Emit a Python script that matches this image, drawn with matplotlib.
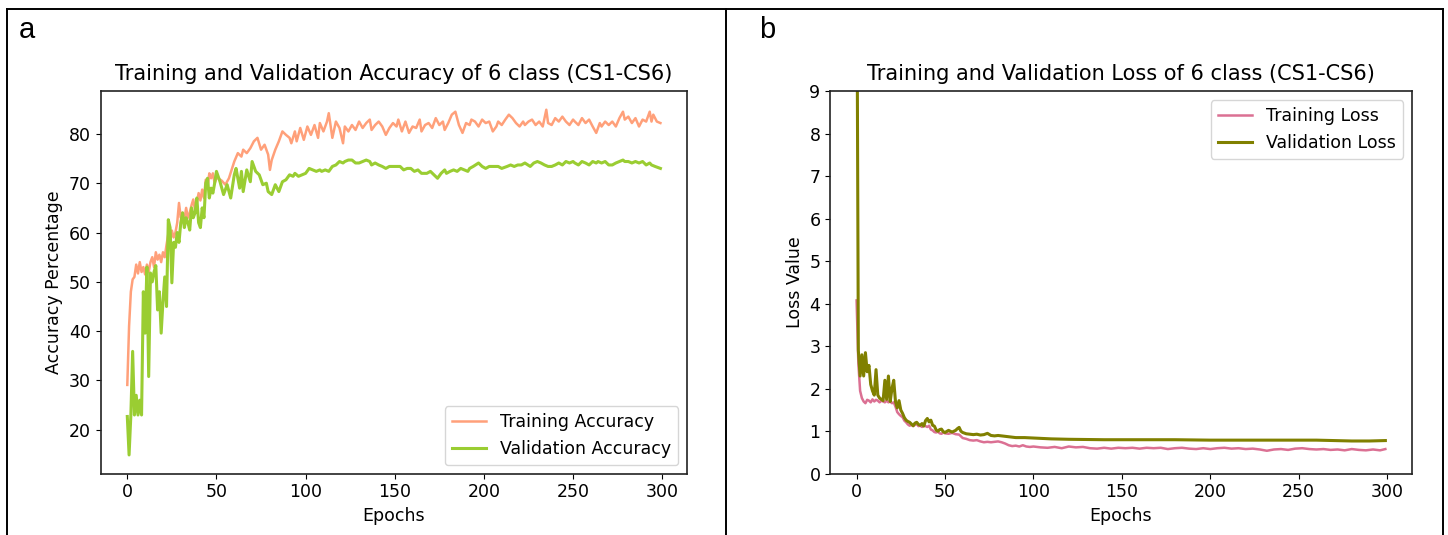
import matplotlib
matplotlib.use('Agg')
import matplotlib.pyplot as plt
from matplotlib.lines import Line2D

# Accuracy panel (a)
train_acc_ep = [0, 1, 2, 3, 4, 5, 6, 7, 8, 9, 10, 11, 12, 13, 14, 15, 16, 17, 18, 19,
                20, 21, 22, 23, 24, 25, 26, 27, 28, 29, 30, 31, 32, 33, 34, 35, 36, 37, 38, 39,
                40, 41, 42, 43, 44, 45, 46, 47, 48, 49, 50, 51, 53, 55, 57, 60, 62, 64, 65, 67,
                69, 71, 73, 75, 77, 79, 80, 81, 83, 85, 87, 89, 91, 92, 94, 95, 97, 99, 101, 103,
                105, 107, 108, 110, 112, 113, 115, 117, 119, 121, 122, 124, 126, 128, 130, 132, 134, 136, 137, 139,
                141, 143, 145, 147, 149, 151, 152, 154, 156, 158, 160, 162, 164, 165, 167, 169, 171, 173, 175, 177,
                178, 180, 182, 184, 186, 188, 190, 192, 193, 195, 197, 199, 201, 203, 205, 207, 208, 210, 212, 214,
                216, 218, 220, 222, 223, 225, 227, 229, 231, 233, 235, 236, 238, 240, 242, 244, 246, 248, 250, 251,
                253, 255, 257, 259, 261, 263, 265, 266, 268, 270, 272, 274, 276, 278, 279, 281, 283, 285, 287, 289,
                291, 293, 294, 295, 297, 299]
train_acc = [29.1, 41.0, 48.0, 50.5, 51.0, 53.5, 51.7, 54.0, 52.0, 53.0, 51.5, 53.5, 52.0, 54.0, 55.0, 53.0, 56.0, 54.5, 55.5, 54.0,
             56.0, 55.0, 57.5, 59.7, 58.0, 60.4, 59.0, 60.0, 62.0, 66.0, 63.0, 64.0, 62.5, 65.0, 63.0, 64.0, 65.5, 66.7, 64.5, 66.0,
             68.0, 66.5, 68.7, 67.0, 70.7, 69.0, 72.0, 71.0, 72.0, 70.0, 71.0, 71.0, 70.5, 69.7, 71.0, 74.4, 76.1, 75.4, 76.8, 76.1,
             77.1, 78.5, 79.2, 76.8, 77.8, 75.8, 72.7, 74.7, 76.8, 78.5, 80.5, 79.8, 79.2, 78.1, 80.5, 78.5, 81.2, 78.8, 81.5, 79.8,
             81.8, 79.2, 82.2, 80.5, 82.5, 84.2, 79.2, 82.5, 81.2, 78.1, 81.5, 80.5, 81.8, 80.8, 82.5, 81.2, 82.2, 82.9, 80.8, 81.8,
             82.5, 81.5, 79.8, 81.2, 82.2, 81.5, 82.9, 80.5, 82.5, 80.2, 81.5, 81.2, 82.9, 80.5, 81.8, 82.2, 81.2, 83.2, 81.8, 82.5,
             80.8, 82.2, 83.9, 84.5, 81.8, 80.2, 82.2, 81.8, 82.9, 82.5, 81.5, 82.9, 82.2, 82.5, 80.5, 81.5, 82.5, 81.8, 82.9, 83.9,
             83.2, 82.2, 81.5, 82.5, 81.8, 82.5, 82.9, 81.8, 82.5, 81.5, 84.9, 82.2, 81.8, 83.2, 82.5, 83.5, 82.5, 81.8, 82.9, 82.5,
             81.8, 83.2, 82.2, 82.9, 81.5, 80.2, 82.2, 81.5, 82.5, 81.8, 82.5, 81.5, 83.2, 84.5, 82.9, 83.5, 82.2, 83.2, 81.5, 82.9,
             82.5, 84.5, 82.5, 83.9, 82.5, 82.2]

val_acc_ep = [0, 1, 2, 3, 4, 5, 6, 7, 8, 9, 10, 11, 12, 13, 14, 15, 16, 17, 18, 19,
              20, 21, 22, 23, 24, 25, 26, 27, 28, 29, 30, 31, 32, 33, 34, 35, 36, 37, 38, 39,
              40, 41, 42, 43, 44, 45, 46, 47, 48, 49, 50, 52, 54, 56, 58, 60, 61, 63, 64, 65,
              67, 69, 70, 72, 74, 76, 78, 79, 81, 83, 85, 87, 89, 91, 93, 94, 96, 98, 100, 102,
              104, 106, 108, 109, 111, 113, 115, 117, 119, 121, 122, 124, 126, 128, 130, 132, 134, 136, 137, 139,
              141, 143, 145, 147, 150, 153, 155, 157, 159, 161, 163, 165, 168, 170, 172, 174, 176, 178, 179, 181,
              183, 185, 187, 189, 191, 192, 194, 197, 199, 201, 203, 206, 208, 210, 213, 215, 217, 219, 221, 223,
              226, 228, 230, 232, 234, 236, 238, 240, 242, 244, 246, 248, 250, 251, 253, 255, 257, 259, 261, 263,
              264, 266, 268, 270, 272, 274, 276, 278, 279, 281, 283, 285, 287, 289, 291, 293, 294, 296, 299]
val_acc = [22.7, 14.9, 23.0, 35.9, 23.0, 27.0, 23.0, 26.0, 23.0, 48.0, 39.6, 53.0, 30.8, 51.8, 50.0, 52.0, 53.3, 44.3, 48.0, 39.6,
           46.0, 51.0, 45.0, 62.6, 61.0, 49.8, 58.0, 57.0, 60.0, 58.0, 62.0, 64.0, 61.0, 63.0, 62.0, 60.5, 65.0, 63.0, 64.0, 67.0,
           62.0, 61.0, 65.0, 63.0, 70.0, 71.0, 67.0, 69.0, 68.0, 70.0, 72.4, 70.3, 67.7, 69.7, 67.0, 71.7, 73.0, 69.0, 72.4, 68.3,
           72.7, 70.3, 74.4, 72.4, 71.7, 69.7, 70.0, 68.3, 67.7, 69.7, 68.3, 70.3, 70.7, 71.7, 71.4, 72.0, 71.4, 71.7, 72.0, 73.0,
           72.7, 72.4, 72.7, 72.4, 72.7, 72.4, 73.4, 73.7, 74.4, 74.1, 74.4, 74.7, 74.7, 74.1, 74.1, 74.4, 74.7, 74.4, 73.7, 74.1,
           73.7, 73.4, 73.0, 73.4, 73.4, 73.4, 72.7, 73.0, 73.0, 72.4, 72.7, 72.0, 72.0, 72.4, 71.7, 71.0, 72.0, 72.7, 72.0, 72.4,
           72.7, 72.4, 73.0, 72.7, 72.4, 73.0, 73.4, 74.1, 73.4, 73.0, 73.4, 73.4, 73.4, 73.0, 73.4, 73.7, 73.4, 73.7, 73.7, 74.1,
           73.4, 74.1, 74.4, 74.1, 73.7, 73.4, 73.4, 73.7, 74.1, 73.7, 74.4, 74.1, 74.4, 74.1, 73.7, 74.4, 74.1, 73.7, 74.4, 74.1,
           74.4, 74.1, 74.4, 73.7, 73.7, 74.1, 74.4, 74.7, 74.4, 74.4, 74.1, 74.4, 74.1, 74.4, 73.7, 74.1, 73.7, 73.4, 73.0]

# Loss panel (b)
train_loss_ep = list(range(0, 51)) + [52, 54, 56, 58, 60, 62, 64, 66, 68, 70, 72, 74, 76, 78, 80, 82, 84, 86, 88, 90,
                                      92, 94, 96, 98, 100, 104, 108, 112, 116, 120, 124, 128, 132, 136, 140, 144, 148, 152, 156, 160,
                                      164, 168, 172, 176, 180, 184, 188, 192, 196, 200, 204, 208, 212, 216, 220, 224, 228, 232, 236, 240,
                                      244, 248, 252, 256, 260, 264, 268, 272, 276, 280, 284, 288, 292, 296, 299]
train_loss = [4.08, 2.6, 1.95, 1.78, 1.70, 1.66, 1.74, 1.72, 1.68, 1.75, 1.70, 1.74, 1.72, 1.68, 1.72, 1.70, 1.68, 1.72, 1.68, 1.70,
              1.66, 1.68, 1.58, 1.45, 1.40, 1.36, 1.33, 1.25, 1.21, 1.16, 1.13, 1.15, 1.12, 1.15, 1.17, 1.12, 1.13, 1.10, 1.14, 1.12,
              1.10, 1.13, 1.04, 1.02, 0.98, 0.97, 0.99, 0.95, 0.94, 0.97, 0.95,
              0.94, 0.96, 0.93, 0.92, 0.84, 0.82, 0.79, 0.78, 0.79, 0.76, 0.74, 0.75, 0.74, 0.75, 0.76, 0.74, 0.71, 0.67, 0.65, 0.66,
              0.64, 0.67, 0.64, 0.63, 0.64, 0.62, 0.61, 0.63, 0.60, 0.64, 0.62, 0.63, 0.60, 0.59, 0.61, 0.59, 0.61, 0.60, 0.61, 0.59,
              0.61, 0.60, 0.61, 0.58, 0.60, 0.61, 0.59, 0.58, 0.60, 0.58, 0.60, 0.61, 0.59, 0.60, 0.58, 0.59, 0.57, 0.54, 0.57, 0.58,
              0.56, 0.59, 0.60, 0.58, 0.57, 0.58, 0.56, 0.57, 0.55, 0.58, 0.56, 0.55, 0.57, 0.55, 0.58]

val_loss_ep = list(range(0, 51)) + [52, 54, 56, 57, 58, 59, 60, 62, 64, 66, 68, 70, 72, 74, 76, 78, 80, 82, 84, 86,
                                    88, 90, 95, 100, 110, 120, 140, 160, 180, 200, 220, 240, 260, 270, 280, 290, 299]
val_loss = [14.0, 2.9, 2.3, 2.8, 2.3, 2.85, 2.4, 2.55, 2.1, 1.95, 1.85, 2.45, 1.85, 1.78, 1.75, 1.72, 2.2, 1.75, 2.3, 1.7,
            2.0, 2.2, 1.7, 1.55, 1.72, 1.5, 1.42, 1.32, 1.26, 1.23, 1.21, 1.17, 1.13, 1.19, 1.21, 1.16, 1.14, 1.18, 1.12, 1.25,
            1.30, 1.22, 1.26, 1.14, 1.12, 1.03, 1.0, 1.04, 1.05, 0.99, 0.97,
            1.02, 0.98, 1.02, 1.06, 1.09, 1.0, 0.97, 0.94, 0.93, 0.92, 0.93, 0.91, 0.92, 0.95, 0.90, 0.89, 0.90, 0.89, 0.88, 0.87,
            0.86, 0.85, 0.85, 0.84, 0.82, 0.81, 0.80, 0.80, 0.80, 0.79, 0.79, 0.79, 0.79, 0.78, 0.77, 0.77, 0.78]

fig = plt.figure(figsize=(14.48, 5.35), dpi=100)

# panel frame like in the paper figure
frame_kw = dict(color='black', lw=1.4, transform=fig.transFigure)
W, H = 1448.0, 535.0
fig.add_artist(Line2D([7 / W, 1443 / W], [1 - 9 / H, 1 - 9 / H], **frame_kw))
fig.add_artist(Line2D([7 / W, 7 / W], [0, 1 - 9 / H], **frame_kw))
fig.add_artist(Line2D([726 / W, 726 / W], [0, 1 - 9 / H], **frame_kw))
fig.add_artist(Line2D([1443 / W, 1443 / W], [0, 1 - 9 / H], **frame_kw))

fig.text(19 / W, 1 - 38 / H, 'a', fontsize=21, family='Liberation Sans')
fig.text(759 / W, 1 - 38 / H, 'b', fontsize=21, family='Liberation Sans')

tick_fs = 12.5
ax1 = fig.add_axes([0.0695, 0.1146, 0.405, 0.7144])
ax1.plot(train_acc_ep, train_acc, color='lightsalmon', lw=1.8, label='Training Accuracy')
ax1.plot(val_acc_ep, val_acc, color='yellowgreen', lw=2.2, label='Validation Accuracy')
ax1.set_ylim(11.1, 88.6)
ax1.set_xticks([0, 50, 100, 150, 200, 250, 300])
ax1.set_yticks([20, 30, 40, 50, 60, 70, 80])
ax1.set_title('Training and Validation Accuracy of 6 class (CS1-CS6)', fontsize=15, pad=8)
ax1.set_xlabel('Epochs', fontsize=tick_fs)
ax1.set_ylabel('Accuracy Percentage', fontsize=tick_fs)
ax1.tick_params(labelsize=tick_fs)
ax1.legend(loc='lower right', fontsize=tick_fs)

ax2 = fig.add_axes([0.5733, 0.1146, 0.4017, 0.7144])
ax2.plot(train_loss_ep, train_loss, color='palevioletred', lw=1.8, label='Training Loss')
ax2.plot(val_loss_ep, val_loss, color='olive', lw=2.2, label='Validation Loss')
ax2.set_xlim(-14.95, 313.95)
ax2.set_ylim(0, 9)
ax2.set_xticks([0, 50, 100, 150, 200, 250, 300])
ax2.set_yticks(range(0, 10))
ax2.set_title('Training and Validation Loss of 6 class (CS1-CS6)', fontsize=15, pad=8)
ax2.set_xlabel('Epochs', fontsize=tick_fs)
ax2.set_ylabel('Loss Value', fontsize=tick_fs)
ax2.tick_params(labelsize=tick_fs)
ax2.legend(loc='upper right', fontsize=tick_fs)

for ax in (ax1, ax2):
    for sp in ax.spines.values():
        sp.set_linewidth(1.2)
        sp.set_color('#222222')

fig.savefig('out.png', dpi=100)
